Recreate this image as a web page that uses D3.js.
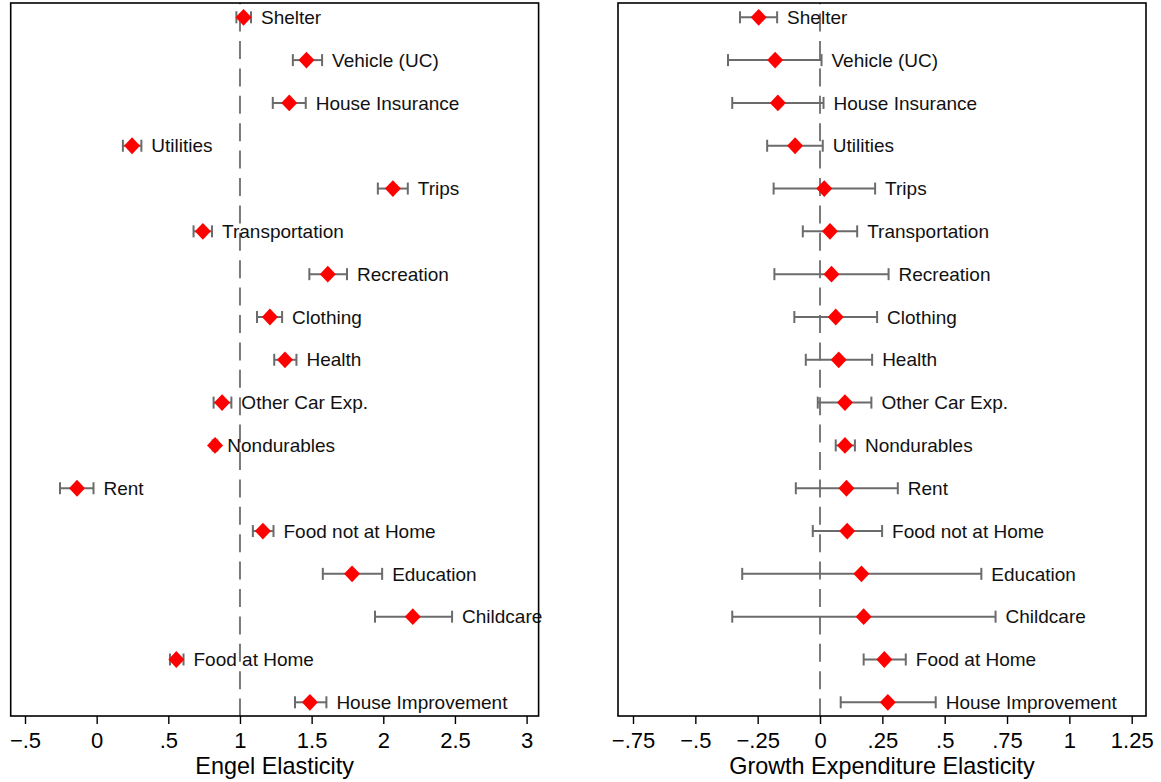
<!DOCTYPE html>
<html>
<head>
<meta charset="utf-8">
<script src="https://cdn.jsdelivr.net/npm/d3@7"></script>
<style>
  body { margin: 0; background: #fff; }
  svg { display: block; font-family: "Liberation Sans", Arial, sans-serif; }
</style>
</head>
<body>
<div id="chart"></div>
<script>
const categories = [
  'Shelter', 'Vehicle (UC)', 'House Insurance', 'Utilities', 'Trips',
  'Transportation', 'Recreation', 'Clothing', 'Health', 'Other Car Exp.',
  'Nondurables', 'Rent', 'Food not at Home', 'Education', 'Childcare',
  'Food at Home', 'House Improvement'
];

// Engel elasticity: estimate and 95% CI
const engelEst = [1.025, 1.464, 1.344, 0.247, 2.067, 0.741, 1.613, 1.209, 1.314, 0.875, 0.826, -0.137, 1.160, 1.782, 2.206, 0.556, 1.488];
const engelLo  = [0.975, 1.369, 1.229, 0.183, 1.962, 0.676, 1.484, 1.119, 1.239, 0.816, 0.810, -0.256, 1.090, 1.578, 1.942, 0.512, 1.384];
const engelHi  = [1.077, 1.573, 1.459, 0.312, 2.171, 0.805, 1.747, 1.294, 1.394, 0.940, 0.842, -0.022, 1.234, 1.992, 2.480, 0.606, 1.603];

// Growth expenditure elasticity: estimate and 95% CI
const growthEst = [-0.246, -0.180, -0.169, -0.100, 0.017, 0.040, 0.046, 0.063, 0.075, 0.100, 0.100, 0.106, 0.109, 0.166, 0.175, 0.258, 0.272];
const growthLo  = [-0.321, -0.369, -0.352, -0.212, -0.186, -0.069, -0.183, -0.103, -0.057, -0.009, 0.063, -0.097, -0.029, -0.312, -0.352, 0.175, 0.083];
const growthHi  = [-0.172, 0.006, 0.014, 0.011, 0.221, 0.149, 0.275, 0.229, 0.209, 0.206, 0.140, 0.312, 0.249, 0.647, 0.704, 0.344, 0.464];

const engelTicks = [-0.5, 0, 0.5, 1, 1.5, 2, 2.5, 3];
const growthTicks = [-0.75, -0.5, -0.25, 0, 0.25, 0.5, 0.75, 1, 1.25];

const W = 1161, H = 782;
const plotTop = 3, plotBottom = 716;

const svg = d3.select("#chart").append("svg")
  .attr("width", W)
  .attr("height", H);

const y = d3.scalePoint()
  .domain(categories)
  .range([17.3, 702.3]);

function fmt(v) {
  let s = String(Math.abs(v)).replace(/^0\./, ".");
  return (v < 0 ? "\u2212" : "") + s;
}

function drawPanel(opts) {
  const x = d3.scaleLinear()
    .domain([opts.ticks[0], opts.ticks[opts.ticks.length - 1]])
    .range(opts.range);

  const g = svg.append("g");

  // reference line
  g.append("line")
    .attr("x1", x(opts.ref)).attr("x2", x(opts.ref))
    .attr("y1", plotTop).attr("y2", plotBottom)
    .attr("stroke", "#7a7a7a")
    .attr("stroke-width", 2)
    .attr("stroke-dasharray", "18,9.4")
    .attr("stroke-dashoffset", 16.8);

  const rows = categories.map((c, i) => ({
    cat: c, est: opts.est[i], lo: opts.lo[i], hi: opts.hi[i]
  }));

  const row = g.selectAll("g.row")
    .data(rows)
    .enter().append("g")
    .attr("class", "row")
    .attr("transform", d => `translate(0,${y(d.cat)})`);

  row.append("line")
    .attr("x1", d => x(d.lo)).attr("x2", d => x(d.hi))
    .attr("stroke", "#6b6b6b").attr("stroke-width", 2);

  row.append("line")
    .attr("x1", d => x(d.lo)).attr("x2", d => x(d.lo))
    .attr("y1", -6).attr("y2", 6)
    .attr("stroke", "#6b6b6b").attr("stroke-width", 2);

  row.append("line")
    .attr("x1", d => x(d.hi)).attr("x2", d => x(d.hi))
    .attr("y1", -6).attr("y2", 6)
    .attr("stroke", "#6b6b6b").attr("stroke-width", 2);

  row.append("path")
    .attr("d", d => {
      const cx = x(d.est);
      return `M${cx},-8.4L${cx + 8},0L${cx},8.4L${cx - 8},0Z`;
    })
    .attr("fill", "#ff0000");

  row.append("text")
    .attr("x", d => x(d.hi) + 10)
    .attr("dy", "0.35em")
    .attr("font-size", 19)
    .attr("fill", "#111")
    .text(d => d.cat);

  // frame
  g.append("rect")
    .attr("x", opts.frame[0]).attr("y", plotTop)
    .attr("width", opts.frame[1] - opts.frame[0])
    .attr("height", plotBottom - plotTop)
    .attr("fill", "none")
    .attr("stroke", "#000")
    .attr("stroke-width", 1.6);

  const axis = g.append("g")
    .attr("transform", `translate(0,${plotBottom})`)
    .call(d3.axisBottom(x)
      .tickValues(opts.ticks)
      .tickFormat(fmt)
      .tickSize(8)
      .tickPadding(8.4));

  axis.select(".domain").remove();
  axis.selectAll(".tick line").attr("stroke", "#000").attr("stroke-width", 1.4);
  axis.selectAll(".tick text")
    .attr("font-size", 22)
    .attr("font-family", "'Liberation Sans', Arial, sans-serif")
    .attr("fill", "#000");

  g.append("text")
    .attr("x", (opts.frame[0] + opts.frame[1]) / 2)
    .attr("y", 774)
    .attr("text-anchor", "middle")
    .attr("font-size", 23.4)
    .attr("fill", "#000")
    .text(opts.title);
}

drawPanel({
  est: engelEst, lo: engelLo, hi: engelHi,
  ticks: engelTicks, range: [25, 526.6],
  frame: [10.7, 538.6], ref: 1,
  title: "Engel Elasticity"
});

drawPanel({
  est: growthEst, lo: growthLo, hi: growthHi,
  ticks: growthTicks, range: [633, 1131.7],
  frame: [618, 1146], ref: 0,
  title: "Growth Expenditure Elasticity"
});
</script>
</body>
</html>
